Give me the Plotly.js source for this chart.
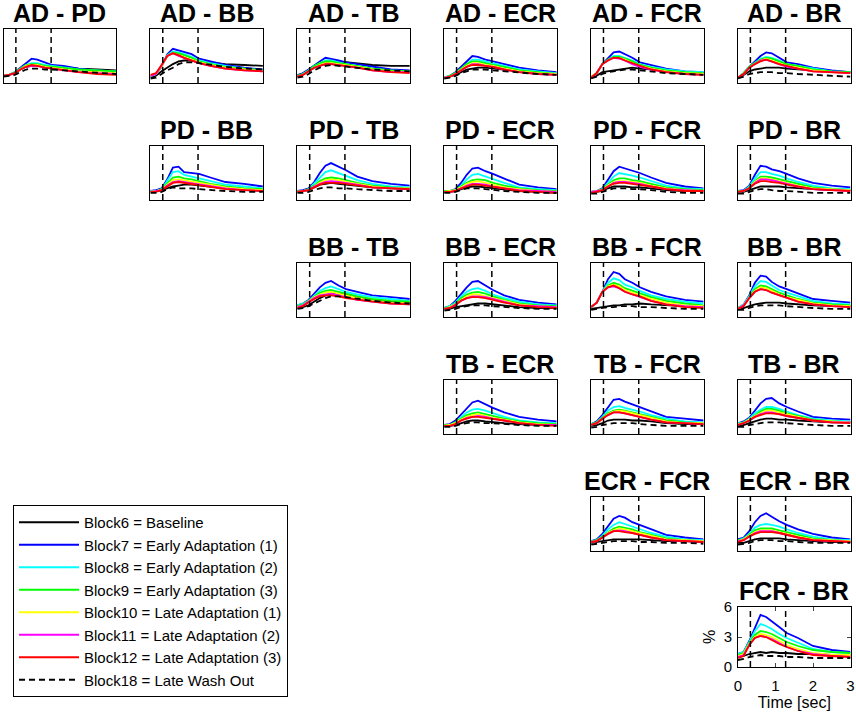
<!DOCTYPE html>
<html>
<head>
<meta charset="utf-8">
<script src="https://cdn.plot.ly/plotly-3.0.1.min.js"></script>
<style>
  html, body { margin: 0; padding: 0; background: #fff; }
  #chart { width: 856px; height: 717px; }
</style>
</head>
<body>
<div id="chart"></div>
<script>
// time axis (sec) shared by every curve
var timeSec = [0, 0.15, 0.3, 0.45, 0.6, 0.75, 0.9, 1.1, 1.3, 1.6, 2.0, 2.5, 3.0];
// two event markers (dashed verticals)
var eventTimes = [0.33, 1.27];

var muscles = ['AD', 'PD', 'BB', 'TB', 'ECR', 'FCR', 'BR'];
var blocks = ['Block6 = Baseline', 'Block7 = Early Adaptation (1)', 'Block8 = Early Adaptation (2)',
  'Block9 = Early Adaptation (3)', 'Block10 = Late Adaptation (1)', 'Block11 = Late Adaptation (2)',
  'Block12 = Late Adaptation (3)', 'Block18 = Late Wash Out'];
var colors = ['#000000', '#0000ff', '#00ffff', '#00ff00', '#ffff00', '#ff00ff', '#ff0000', '#000000'];

// one array per pair, rows = Block6, 7, 8, 9, 10, 11, 12, 18  (values in %)
var AD_PD = [
  [0.8,0.9,1.1,1.5,1.8,1.9,2.0,1.9,1.9,1.8,1.6,1.5,1.4],
  [0.8,0.9,1.2,1.7,2.3,2.7,2.6,2.3,2.0,1.9,1.6,1.4,1.3],
  [0.8,0.9,1.2,1.6,2.0,2.2,2.2,2.0,1.9,1.7,1.5,1.4,1.3],
  [0.8,0.9,1.2,1.6,2.0,2.1,2.1,1.9,1.8,1.7,1.5,1.4,1.3],
  [0.8,0.9,1.1,1.5,1.9,2.0,2.0,1.8,1.7,1.5,1.3,1.2,1.1],
  [0.8,0.9,1.1,1.5,1.8,1.9,1.9,1.7,1.6,1.4,1.2,1.1,1.0],
  [0.8,0.9,1.1,1.5,1.8,2.0,1.9,1.7,1.6,1.4,1.2,1.0,0.9],
  [0.7,0.8,0.9,1.2,1.5,1.6,1.6,1.5,1.5,1.4,1.3,1.1,1.0]];
var AD_BB = [
  [0.6,0.8,1.3,1.7,2.1,2.4,2.5,2.5,2.4,2.3,2.1,2.0,1.9],
  [0.7,1.0,1.8,3.2,3.8,3.6,3.4,3.2,2.7,2.4,2.0,1.7,1.5],
  [0.8,1.0,1.9,3.1,3.5,3.4,3.2,2.9,2.5,2.2,1.9,1.6,1.4],
  [0.8,1.0,1.9,3.0,3.4,3.3,3.1,2.8,2.4,2.1,1.8,1.6,1.4],
  [0.8,1.0,1.9,3.0,3.3,3.1,2.9,2.6,2.3,2.0,1.7,1.5,1.3],
  [0.8,1.0,2.0,3.0,3.3,3.0,2.8,2.5,2.2,1.9,1.6,1.4,1.3],
  [0.9,1.1,2.0,3.0,3.3,3.1,2.8,2.5,2.2,1.9,1.6,1.4,1.3],
  [0.5,0.6,1.0,1.4,1.7,2.1,2.3,2.3,2.2,2.0,1.8,1.6,1.5]];
var AD_TB = [
  [0.9,1.0,1.3,1.7,2.0,2.2,2.4,2.4,2.3,2.2,2.0,1.9,1.9],
  [0.8,1.1,1.5,2.0,2.4,2.8,2.7,2.5,2.3,2.1,1.8,1.5,1.4],
  [0.8,1.0,1.4,1.9,2.2,2.5,2.5,2.3,2.1,1.9,1.6,1.4,1.3],
  [0.8,1.0,1.4,1.9,2.2,2.4,2.4,2.2,2.1,1.9,1.6,1.4,1.3],
  [0.7,0.9,1.3,1.7,2.0,2.2,2.2,2.1,2.0,1.8,1.5,1.3,1.2],
  [0.7,0.9,1.3,1.7,1.9,2.1,2.1,2.0,1.9,1.7,1.4,1.2,1.2],
  [0.7,0.9,1.3,1.7,1.9,2.1,2.1,2.0,1.9,1.7,1.4,1.2,1.1],
  [0.6,0.7,1.0,1.4,1.7,1.9,2.0,1.9,1.8,1.7,1.5,1.4,1.3]];
var AD_ECR = [
  [0.6,0.7,0.9,1.2,1.5,1.6,1.7,1.7,1.6,1.5,1.3,1.1,1.0],
  [0.6,0.8,1.2,1.8,2.5,3.0,2.9,2.6,2.4,2.1,1.7,1.4,1.2],
  [0.6,0.8,1.1,1.6,2.2,2.6,2.6,2.4,2.2,1.9,1.5,1.3,1.1],
  [0.6,0.8,1.1,1.6,2.1,2.4,2.4,2.2,2.0,1.8,1.4,1.2,1.0],
  [0.6,0.7,1.0,1.5,1.9,2.2,2.2,2.0,1.9,1.6,1.3,1.1,1.0],
  [0.6,0.7,1.0,1.4,1.8,2.1,2.1,1.9,1.8,1.5,1.2,1.0,0.9],
  [0.5,0.7,1.0,1.4,1.8,2.0,2.0,1.9,1.8,1.5,1.2,1.0,0.9],
  [0.5,0.6,0.8,1.1,1.3,1.5,1.5,1.5,1.4,1.3,1.1,1.0,0.9]];
var AD_FCR = [
  [0.6,0.8,1.2,1.3,1.4,1.5,1.6,1.7,1.6,1.5,1.3,1.2,1.1],
  [0.6,1.1,2.1,2.8,3.4,3.5,3.2,2.8,2.3,2.0,1.6,1.3,1.2],
  [0.7,1.1,2.1,2.6,3.0,3.0,2.8,2.5,2.1,1.8,1.5,1.3,1.2],
  [0.7,1.1,2.1,2.6,2.9,2.9,2.7,2.4,2.0,1.7,1.4,1.2,1.1],
  [0.7,1.1,2.1,2.5,2.8,2.8,2.6,2.2,1.9,1.6,1.3,1.1,1.0],
  [0.6,1.1,2.1,2.5,2.8,2.7,2.5,2.1,1.8,1.5,1.2,1.0,0.9],
  [0.6,1.1,2.1,2.5,2.8,2.8,2.5,2.2,1.9,1.5,1.2,1.0,0.9],
  [0.5,0.7,1.0,1.2,1.3,1.4,1.5,1.5,1.4,1.3,1.1,1.0,0.9]];
var AD_BR = [
  [0.6,0.9,1.3,1.5,1.6,1.7,1.7,1.7,1.6,1.5,1.4,1.3,1.2],
  [0.6,1.1,1.8,2.4,3.0,3.4,3.3,2.8,2.3,2.1,1.7,1.4,1.2],
  [0.6,1.1,1.8,2.3,2.7,2.9,2.8,2.5,2.1,1.9,1.6,1.3,1.2],
  [0.6,1.1,1.8,2.2,2.6,2.8,2.7,2.4,2.1,1.9,1.5,1.3,1.2],
  [0.6,1.0,1.7,2.1,2.5,2.7,2.5,2.2,1.9,1.7,1.4,1.2,1.1],
  [0.6,1.0,1.7,2.1,2.5,2.6,2.4,2.1,1.8,1.6,1.3,1.2,1.1],
  [0.6,1.0,1.7,2.1,2.4,2.6,2.4,2.1,1.9,1.6,1.3,1.2,1.1],
  [0.5,0.7,1.0,1.1,1.2,1.2,1.2,1.1,1.1,1.0,0.9,0.8,0.7]];
var PD_BB = [
  [1.0,1.0,1.1,1.3,1.5,1.6,1.7,1.7,1.6,1.5,1.3,1.2,1.1],
  [1.0,1.1,1.3,2.3,3.6,3.7,3.1,3.0,2.9,2.5,2.0,1.8,1.5],
  [1.0,1.0,1.2,2.1,3.1,3.2,2.8,2.6,2.4,2.1,1.7,1.5,1.3],
  [0.9,1.0,1.2,1.8,2.5,2.6,2.4,2.3,2.1,1.8,1.5,1.3,1.2],
  [0.9,1.0,1.1,1.7,2.2,2.3,2.2,2.1,1.9,1.7,1.4,1.2,1.1],
  [0.9,1.0,1.1,1.6,2.0,2.1,2.0,1.9,1.7,1.5,1.3,1.1,1.0],
  [0.9,0.9,1.1,1.5,1.9,2.0,1.9,1.8,1.7,1.5,1.2,1.1,1.0],
  [0.8,0.8,0.9,1.2,1.4,1.3,1.3,1.3,1.2,1.1,1.0,0.9,0.9]];
var PD_TB = [
  [1.0,1.0,1.1,1.4,1.7,1.8,1.9,1.8,1.7,1.6,1.4,1.3,1.2],
  [1.0,1.1,1.3,2.0,3.0,3.8,4.1,3.7,3.3,2.6,2.1,1.8,1.6],
  [1.0,1.0,1.2,1.8,2.5,3.1,3.3,3.0,2.7,2.2,1.8,1.5,1.4],
  [1.0,1.0,1.2,1.6,2.1,2.4,2.5,2.4,2.2,1.9,1.6,1.4,1.3],
  [0.9,1.0,1.1,1.5,1.9,2.2,2.3,2.2,2.0,1.8,1.5,1.3,1.3],
  [0.9,1.0,1.1,1.5,1.8,2.0,2.1,2.0,1.9,1.7,1.4,1.3,1.2],
  [0.9,1.0,1.1,1.4,1.7,1.9,1.9,1.9,1.8,1.6,1.4,1.3,1.2],
  [0.8,0.8,0.9,1.1,1.3,1.4,1.4,1.3,1.3,1.2,1.1,1.0,1.0]];
var PD_ECR = [
  [0.9,0.9,1.0,1.2,1.4,1.5,1.5,1.4,1.3,1.2,1.0,0.9,0.8],
  [1.0,1.0,1.2,1.9,2.8,3.5,3.6,3.2,2.9,2.4,1.7,1.4,1.2],
  [1.0,1.0,1.1,1.6,2.3,2.8,2.9,2.6,2.3,1.9,1.4,1.2,1.1],
  [1.0,1.0,1.1,1.5,1.9,2.2,2.3,2.2,1.9,1.6,1.3,1.1,1.0],
  [0.9,1.0,1.1,1.4,1.8,2.0,2.1,1.9,1.7,1.4,1.2,1.0,0.9],
  [0.9,0.9,1.0,1.3,1.6,1.8,1.8,1.7,1.5,1.3,1.1,1.0,0.9],
  [0.9,0.9,1.0,1.3,1.5,1.7,1.7,1.6,1.5,1.3,1.0,0.9,0.8],
  [0.8,0.8,0.9,1.1,1.3,1.3,1.3,1.2,1.1,1.0,0.9,0.8,0.8]];
var PD_FCR = [
  [0.9,0.9,1.0,1.3,1.5,1.5,1.5,1.4,1.4,1.3,1.1,1.0,1.0],
  [0.9,1.0,1.3,2.2,3.2,3.7,3.5,3.2,3.0,2.5,1.9,1.5,1.3],
  [0.9,1.0,1.2,1.9,2.6,3.0,2.9,2.7,2.5,2.1,1.6,1.3,1.2],
  [0.9,1.0,1.2,1.7,2.2,2.4,2.4,2.2,2.1,1.8,1.4,1.2,1.1],
  [0.9,1.0,1.1,1.6,2.0,2.1,2.1,2.0,1.9,1.6,1.3,1.1,1.0],
  [0.9,1.0,1.1,1.5,1.9,2.0,2.0,1.9,1.8,1.5,1.2,1.1,1.0],
  [0.8,0.9,1.1,1.5,1.8,1.9,1.9,1.8,1.7,1.5,1.2,1.0,1.0],
  [0.7,0.7,0.9,1.1,1.3,1.3,1.3,1.2,1.2,1.1,0.9,0.8,0.8]];
var PD_BR = [
  [0.9,0.9,1.1,1.3,1.5,1.5,1.5,1.5,1.4,1.3,1.2,1.1,1.1],
  [1.0,1.1,1.6,2.8,3.8,3.7,3.4,3.2,2.9,2.4,1.9,1.6,1.4],
  [1.0,1.0,1.5,2.4,3.1,3.1,2.9,2.7,2.4,2.0,1.6,1.3,1.2],
  [1.0,1.0,1.4,2.1,2.6,2.6,2.5,2.3,2.1,1.8,1.4,1.2,1.1],
  [0.9,1.0,1.3,2.0,2.4,2.4,2.3,2.1,1.9,1.6,1.3,1.2,1.1],
  [0.9,1.0,1.3,1.9,2.3,2.3,2.2,2.0,1.8,1.5,1.2,1.1,1.0],
  [0.9,1.0,1.3,1.8,2.1,2.1,2.0,1.9,1.7,1.5,1.2,1.1,1.0],
  [0.7,0.7,0.9,1.1,1.2,1.2,1.1,1.0,1.0,0.9,0.8,0.8,0.8]];
var BB_TB = [
  [1.0,1.1,1.3,1.7,2.1,2.4,2.6,2.6,2.5,2.2,1.9,1.7,1.6],
  [1.3,1.5,1.9,2.6,3.3,3.8,4.0,3.5,3.1,2.8,2.4,2.2,2.0],
  [1.3,1.5,1.8,2.4,2.9,3.2,3.4,3.1,2.8,2.5,2.2,2.0,1.8],
  [1.2,1.4,1.8,2.3,2.7,2.9,3.0,2.8,2.6,2.3,2.0,1.8,1.7],
  [1.1,1.3,1.7,2.2,2.5,2.7,2.8,2.6,2.4,2.1,1.8,1.6,1.5],
  [1.1,1.3,1.7,2.1,2.4,2.5,2.6,2.4,2.2,1.9,1.7,1.5,1.4],
  [1.0,1.2,1.6,2.0,2.3,2.4,2.4,2.3,2.1,1.9,1.7,1.5,1.4],
  [0.9,1.0,1.2,1.5,1.8,2.1,2.3,2.3,2.2,2.0,1.8,1.6,1.5]];
var BB_ECR = [
  [0.9,0.9,1.1,1.2,1.3,1.4,1.5,1.5,1.4,1.3,1.1,1.0,1.0],
  [1.0,1.2,1.8,2.6,3.3,3.9,4.0,3.5,3.0,2.4,1.9,1.6,1.4],
  [1.0,1.2,1.6,2.3,2.8,3.1,3.2,2.9,2.5,2.1,1.7,1.4,1.3],
  [1.0,1.1,1.5,2.1,2.5,2.7,2.8,2.6,2.3,1.9,1.5,1.3,1.2],
  [0.9,1.1,1.4,1.9,2.3,2.5,2.5,2.3,2.1,1.8,1.4,1.2,1.1],
  [0.9,1.0,1.4,1.8,2.1,2.3,2.3,2.2,2.0,1.7,1.3,1.2,1.1],
  [0.9,1.0,1.3,1.8,2.1,2.2,2.2,2.1,1.9,1.6,1.3,1.1,1.0],
  [0.7,0.8,0.9,1.1,1.2,1.3,1.3,1.3,1.2,1.1,1.0,0.9,0.9]];
var BB_FCR = [
  [0.9,1.0,1.1,1.2,1.3,1.3,1.4,1.4,1.5,1.4,1.3,1.2,1.2],
  [1.1,1.6,2.8,4.2,5.0,4.8,4.2,3.8,3.3,2.8,2.3,1.9,1.7],
  [1.1,1.6,2.8,3.8,4.3,4.1,3.6,3.3,2.9,2.4,2.0,1.7,1.5],
  [1.1,1.6,2.8,3.5,3.8,3.6,3.2,2.9,2.6,2.2,1.8,1.5,1.3],
  [1.1,1.6,2.8,3.4,3.6,3.4,3.0,2.7,2.4,2.0,1.6,1.3,1.2],
  [1.1,1.6,2.8,3.3,3.4,3.2,2.8,2.5,2.2,1.8,1.4,1.2,1.1],
  [1.1,1.6,2.8,3.3,3.5,3.2,2.8,2.5,2.3,1.8,1.4,1.1,1.0],
  [0.8,0.9,1.0,1.1,1.1,1.2,1.2,1.2,1.1,1.1,1.0,0.9,0.9]];
var BB_BR = [
  [0.9,1.0,1.2,1.4,1.5,1.6,1.6,1.6,1.5,1.4,1.3,1.2,1.2],
  [1.0,1.4,2.4,3.8,4.6,4.5,3.9,3.4,3.1,2.6,2.0,1.8,1.6],
  [1.0,1.4,2.3,3.4,4.0,3.9,3.5,3.0,2.7,2.3,1.8,1.5,1.4],
  [1.0,1.3,2.2,3.1,3.5,3.4,3.1,2.7,2.4,2.0,1.6,1.4,1.3],
  [0.9,1.3,2.1,2.9,3.3,3.2,2.9,2.5,2.2,1.9,1.5,1.3,1.2],
  [0.9,1.3,2.1,2.8,3.1,3.0,2.7,2.4,2.1,1.7,1.4,1.2,1.1],
  [0.9,1.2,2.1,2.8,3.1,3.0,2.7,2.4,2.1,1.7,1.4,1.2,1.1],
  [0.8,0.8,1.0,1.2,1.3,1.3,1.3,1.3,1.2,1.1,1.0,0.9,0.9]];
var TB_ECR = [
  [0.9,0.9,1.0,1.2,1.4,1.5,1.5,1.4,1.3,1.2,1.1,1.0,1.0],
  [1.0,1.1,1.5,2.2,2.9,3.5,3.7,3.3,2.9,2.4,1.9,1.6,1.4],
  [1.0,1.0,1.3,1.9,2.4,2.7,2.8,2.6,2.3,1.9,1.5,1.3,1.2],
  [1.0,1.0,1.3,1.7,2.1,2.3,2.4,2.2,2.0,1.7,1.4,1.2,1.1],
  [0.9,1.0,1.2,1.6,1.9,2.1,2.2,2.0,1.8,1.6,1.3,1.1,1.0],
  [0.9,0.9,1.1,1.5,1.8,1.9,2.0,1.9,1.7,1.5,1.2,1.0,1.0],
  [0.9,0.9,1.1,1.5,1.7,1.9,1.9,1.8,1.7,1.5,1.2,1.0,0.9],
  [0.8,0.8,0.9,1.1,1.2,1.3,1.3,1.2,1.2,1.1,1.0,0.9,0.9]];
var TB_FCR = [
  [0.9,1.0,1.2,1.5,1.6,1.6,1.6,1.5,1.5,1.4,1.2,1.1,1.1],
  [1.1,1.4,2.1,3.0,3.8,3.9,3.6,3.3,3.0,2.5,1.9,1.7,1.5],
  [1.1,1.3,1.9,2.6,3.0,3.1,2.9,2.7,2.5,2.1,1.7,1.4,1.3],
  [1.1,1.3,1.8,2.3,2.6,2.7,2.6,2.4,2.2,1.9,1.5,1.3,1.2],
  [1.0,1.2,1.7,2.2,2.5,2.6,2.5,2.3,2.1,1.8,1.4,1.2,1.2],
  [1.0,1.2,1.7,2.1,2.4,2.4,2.3,2.1,1.9,1.6,1.3,1.2,1.1],
  [1.0,1.2,1.7,2.1,2.4,2.4,2.3,2.1,1.9,1.6,1.3,1.2,1.1],
  [0.7,0.8,1.0,1.1,1.2,1.2,1.2,1.2,1.1,1.0,0.9,0.9,0.9]];
var TB_BR = [
  [1.0,1.0,1.2,1.4,1.6,1.7,1.7,1.6,1.6,1.5,1.4,1.3,1.3],
  [1.2,1.4,1.8,2.6,3.4,3.9,4.0,3.4,3.0,2.5,1.9,1.7,1.6],
  [1.2,1.3,1.7,2.3,2.7,3.0,3.0,2.8,2.5,2.1,1.7,1.5,1.4],
  [1.1,1.3,1.6,2.1,2.5,2.8,2.8,2.6,2.3,2.0,1.6,1.4,1.3],
  [1.1,1.2,1.6,2.0,2.3,2.6,2.6,2.4,2.2,1.9,1.5,1.4,1.3],
  [1.0,1.2,1.5,1.9,2.2,2.4,2.4,2.2,2.0,1.8,1.5,1.3,1.3],
  [1.0,1.2,1.5,1.9,2.1,2.3,2.3,2.2,2.0,1.8,1.5,1.3,1.2],
  [0.8,0.8,1.0,1.1,1.2,1.3,1.3,1.3,1.2,1.1,1.0,0.9,0.9]];
var ECR_FCR = [
  [0.9,1.0,1.1,1.2,1.3,1.3,1.3,1.3,1.3,1.2,1.1,1.1,1.0],
  [1.1,1.3,1.9,2.8,3.6,3.9,3.7,3.2,2.9,2.4,1.8,1.5,1.3],
  [1.1,1.2,1.7,2.4,2.9,3.2,3.0,2.7,2.4,2.0,1.6,1.3,1.2],
  [1.0,1.2,1.6,2.1,2.5,2.7,2.6,2.4,2.1,1.8,1.4,1.2,1.1],
  [1.0,1.1,1.5,2.0,2.3,2.5,2.4,2.2,2.0,1.7,1.3,1.2,1.1],
  [1.0,1.1,1.5,1.9,2.2,2.3,2.2,2.0,1.8,1.5,1.2,1.1,1.0],
  [1.0,1.1,1.5,1.9,2.2,2.2,2.1,2.0,1.8,1.5,1.2,1.1,1.0],
  [0.7,0.8,0.9,1.0,1.1,1.1,1.1,1.1,1.0,1.0,0.9,0.9,0.8]];
var ECR_BR = [
  [0.9,0.9,1.1,1.3,1.4,1.4,1.4,1.4,1.3,1.2,1.1,1.0,1.0],
  [1.3,1.5,2.2,3.2,3.9,4.2,3.8,3.3,2.9,2.4,1.9,1.5,1.3],
  [1.2,1.4,1.9,2.6,2.9,3.0,2.9,2.7,2.4,2.0,1.6,1.3,1.2],
  [1.2,1.3,1.8,2.3,2.5,2.5,2.5,2.3,2.1,1.8,1.4,1.2,1.1],
  [1.1,1.3,1.7,2.1,2.3,2.3,2.3,2.1,1.9,1.6,1.3,1.2,1.1],
  [1.1,1.2,1.6,2.0,2.2,2.2,2.2,2.0,1.8,1.5,1.2,1.1,1.0],
  [1.0,1.2,1.6,1.9,2.1,2.1,2.1,2.0,1.8,1.5,1.2,1.1,1.0],
  [0.7,0.8,0.9,1.1,1.2,1.2,1.2,1.1,1.1,1.0,0.9,0.9,0.9]];
var FCR_BR = [
  [1.0,1.1,1.3,1.4,1.5,1.4,1.5,1.4,1.4,1.3,1.3,1.2,1.2],
  [1.3,1.5,2.6,4.0,5.2,5.0,4.6,4.0,3.4,2.9,2.1,1.7,1.5],
  [1.3,1.5,2.5,3.6,4.3,4.1,3.8,3.3,2.9,2.4,1.8,1.5,1.4],
  [1.2,1.4,2.4,3.2,3.6,3.5,3.3,2.9,2.5,2.1,1.7,1.5,1.4],
  [1.1,1.3,2.3,3.0,3.3,3.2,3.0,2.6,2.2,1.8,1.4,1.2,1.2],
  [1.0,1.2,2.2,2.9,3.1,3.0,2.8,2.4,2.0,1.6,1.3,1.1,1.0],
  [0.9,1.1,2.2,2.9,3.1,3.0,2.7,2.3,2.0,1.6,1.2,1.1,1.0],
  [0.7,0.8,1.0,1.1,1.2,1.1,1.1,1.1,1.0,1.0,0.9,0.9,0.9]];

// pairs in upper-triangle order (row = first muscle, column = second muscle)
var pairData = [AD_PD, AD_BB, AD_TB, AD_ECR, AD_FCR, AD_BR,
  PD_BB, PD_TB, PD_ECR, PD_FCR, PD_BR,
  BB_TB, BB_ECR, BB_FCR, BB_BR,
  TB_ECR, TB_FCR, TB_BR,
  ECR_FCR, ECR_BR,
  FCR_BR];

var W = 856, H = 717;
var FONT = 'Arial, "Liberation Sans", Helvetica, sans-serif';
var colLeft = 3.5, colPitch = 146.9, boxW = 112.5;
var rowTop = 29, rowPitch = 117, boxH = 54;

var traces = [];
var layout = {
  width: W, height: H,
  margin: {l: 0, r: 0, t: 0, b: 0},
  paper_bgcolor: '#fff', plot_bgcolor: '#fff',
  font: {family: FONT, color: '#000'},
  showlegend: true,
  legend: {
    x: 13 / W, y: 1 - 505 / H, xanchor: 'left', yanchor: 'top',
    bgcolor: '#fff', bordercolor: '#000', borderwidth: 1,
    font: {family: FONT, size: 15, color: '#000'},
    itemwidth: 60, tracegroupgap: 0
  },
  annotations: [],
  shapes: []
};

var k = 0;
for (var i = 0; i < muscles.length; i++) {
  for (var j = i + 1; j < muscles.length; j++) {
    var n = k + 1;
    var xs = n === 1 ? '' : String(n);
    var boxLeft = colLeft + (j - 1) * colPitch;
    var boxTop = rowTop + i * rowPitch;
    var boxHt = boxH;
    var last = (k === pairData.length - 1);
    if (last) { boxTop = 607; boxHt = 60; }

    var xa = {
      domain: [boxLeft / W, (boxLeft + boxW) / W], range: [0, 3], anchor: 'y' + xs,
      showline: true, mirror: true, linecolor: '#000', linewidth: 1,
      showgrid: false, zeroline: false, showticklabels: false, ticks: '', fixedrange: true
    };
    var ya = {
      domain: [1 - (boxTop + boxHt) / H, 1 - boxTop / H], range: [0, 6], anchor: 'x' + xs,
      showline: true, mirror: true, linecolor: '#000', linewidth: 1,
      showgrid: false, zeroline: false, showticklabels: false, ticks: '', fixedrange: true
    };
    if (last) {
      Object.assign(xa, {
        showticklabels: true, tickvals: [0, 1, 2, 3], ticks: 'inside', ticklen: 4,
        mirror: 'ticks', tickfont: {size: 15, family: FONT}, ticklabelstandoff: 5,
        title: {text: 'Time [sec]', font: {size: 16, family: FONT}, standoff: 3}
      });
      Object.assign(ya, {
        showticklabels: true, tickvals: [0, 3, 6], ticks: 'inside', ticklen: 4,
        mirror: 'ticks', tickfont: {size: 15, family: FONT}, ticklabelstandoff: 2,
        title: {text: '%', font: {size: 16, family: FONT}, standoff: 4}
      });
    }
    layout['xaxis' + xs] = xa;
    layout['yaxis' + xs] = ya;

    var rows = pairData[k];
    for (var s = 0; s < blocks.length; s++) {
      traces.push({
        type: 'scatter', mode: 'lines',
        x: timeSec, y: rows[s],
        xaxis: 'x' + xs, yaxis: 'y' + xs,
        name: blocks[s], legendgroup: 'b' + s, showlegend: k === 0,
        line: {color: colors[s], width: 1.8, dash: s === 7 ? '6px,4px' : 'solid'},
        hoverinfo: 'skip'
      });
    }

    eventTimes.forEach(function (t) {
      layout.shapes.push({
        type: 'line', xref: 'x' + xs, yref: 'y' + xs + ' domain',
        x0: t, x1: t, y0: 0, y1: 1,
        line: {color: '#000', width: 1.5, dash: '6px,4px'}
      });
    });

    layout.annotations.push({
      text: muscles[i] + ' - ' + muscles[j],
      xref: 'paper', yref: 'paper',
      x: (boxLeft + boxW / 2) / W, y: 1 - (boxTop - 16) / H,
      xanchor: 'center', yanchor: 'middle', showarrow: false,
      font: {family: FONT, size: 25, weight: 'bold', color: '#000'}
    });
    k++;
  }
}

Plotly.newPlot('chart', traces, layout, {displayModeBar: false, staticPlot: true});
</script>
</body>
</html>
